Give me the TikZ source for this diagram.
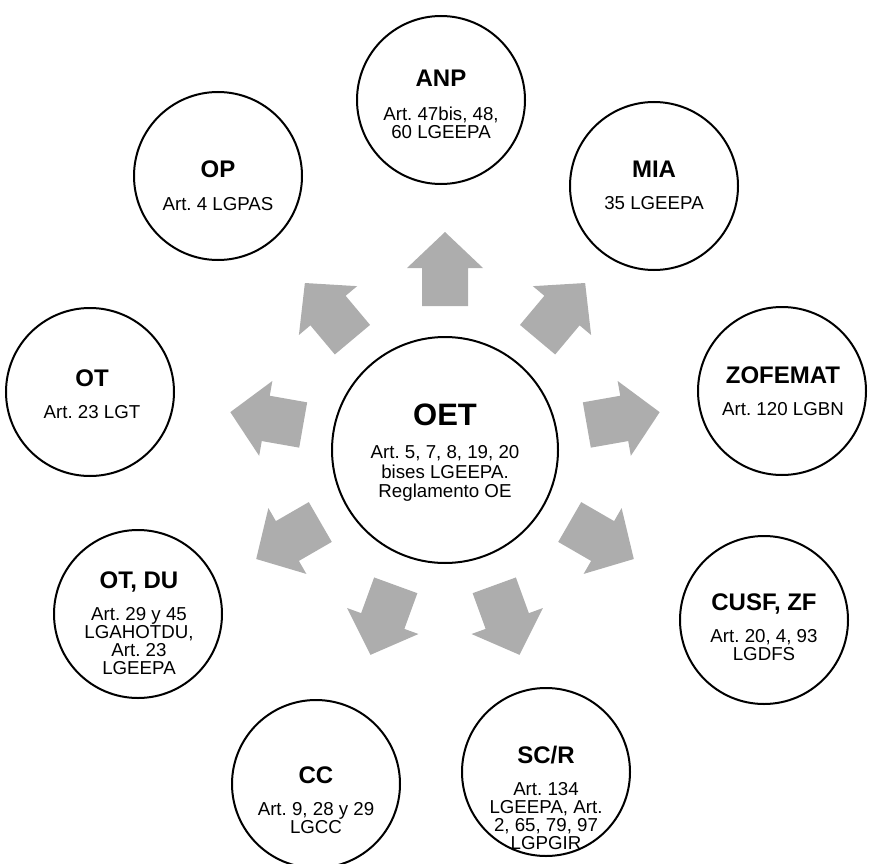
\documentclass[tikz,border=0pt]{standalone}
\usepackage{fontspec}
\setmainfont{Liberation Sans}
\frenchspacing
\definecolor{arrowgray}{RGB}{173,173,173}
\tikzset{
  ring/.style={circle, draw=black, line width=2pt, fill=white, inner sep=0pt, minimum size=168pt},
  bigring/.style={circle, draw=black, line width=2pt, fill=white, inner sep=0pt, minimum size=226pt},
  ttl/.style={anchor=base, inner sep=0pt, font=\fontsize{24}{28}\selectfont\bfseries},
  bigttl/.style={anchor=base, inner sep=0pt, font=\fontsize{31}{36}\selectfont\bfseries},
  bdy/.style={anchor=north, inner sep=0pt, align=center, font=\fontsize{18.7}{18}\selectfont},
  bigbdy/.style={anchor=north, inner sep=0pt, align=center, font=\fontsize{18.7}{19.5}\selectfont},
  blockarrow/.style={fill=arrowgray, draw=none}
}
% #1 name, #2 x, #3 y (circle centre), #4 title x, #5 title baseline, #6 title, #7 body
\newcommand{\OutCirc}[7]{%
  \node[ring] (c#1) at (#2,#3) {};
  \node[ttl] (t#1) at (#4,#5) {#6};
  \pgfmathsetmacro{\bodytop}{#5+33-13.5}
  \node[bdy] (b#1) at (#4,\bodytop) {#7};
}
\newcommand{\BlockArrow}[1]{%
  \fill[blockarrow, shift={(445,450)}, rotate=#1]
    (144,-23) -- (182,-23) -- (182,-38) -- (218,0) -- (182,38) -- (182,23) -- (144,23) -- cycle;
}
\begin{document}
\begin{tikzpicture}[x=1pt, y=-1pt]
\useasboundingbox (0,0) rectangle (870,864);
% block arrows
\foreach \a in {90,50,10,-30,-70,-110,-150,170,130} {\BlockArrow{\a}}
% centre
\node[bigring] (cOET) at (445,450) {};
\node[bigttl] (tOET) at (445,425) {OET};
\node[bigbdy] (bOET) at (445,445.5) {Art. 5, 7, 8, 19, 20\\ bises LGEEPA.\\ Reglamento OE};
% outer circles
\OutCirc{ANP}{441}{100}{441}{87}{ANP}{Art. 47bis, 48,\\ 60 LGEEPA}
\OutCirc{MIA}{654}{186}{654}{177}{MIA}{35 LGEEPA}
\OutCirc{ZOF}{782}{391}{783}{383}{ZOFEMAT}{Art. 120 LGBN}
\OutCirc{CUSF}{764}{620}{764}{610}{CUSF, ZF}{Art. 20, 4, 93\\ LGDFS}
\OutCirc{SCR}{546}{772}{546}{763}{SC/R}{Art. 134\\ LGEEPA, Art.\\ 2, 65, 79, 97\\ LGPGIR}
\OutCirc{CC}{316}{784}{316}{783}{CC}{Art. 9, 28 y 29\\ LGCC}
\OutCirc{OTDU}{138}{614}{139}{588}{OT, DU}{Art. 29 y 45\\ LGAHOTDU,\\ Art. 23\\ LGEEPA}
\OutCirc{OT}{90}{392}{92}{386}{OT}{Art. 23 LGT}
\OutCirc{OP}{218}{176}{218}{178}{OP}{Art. 4 LGPAS}
\end{tikzpicture}
\end{document}
